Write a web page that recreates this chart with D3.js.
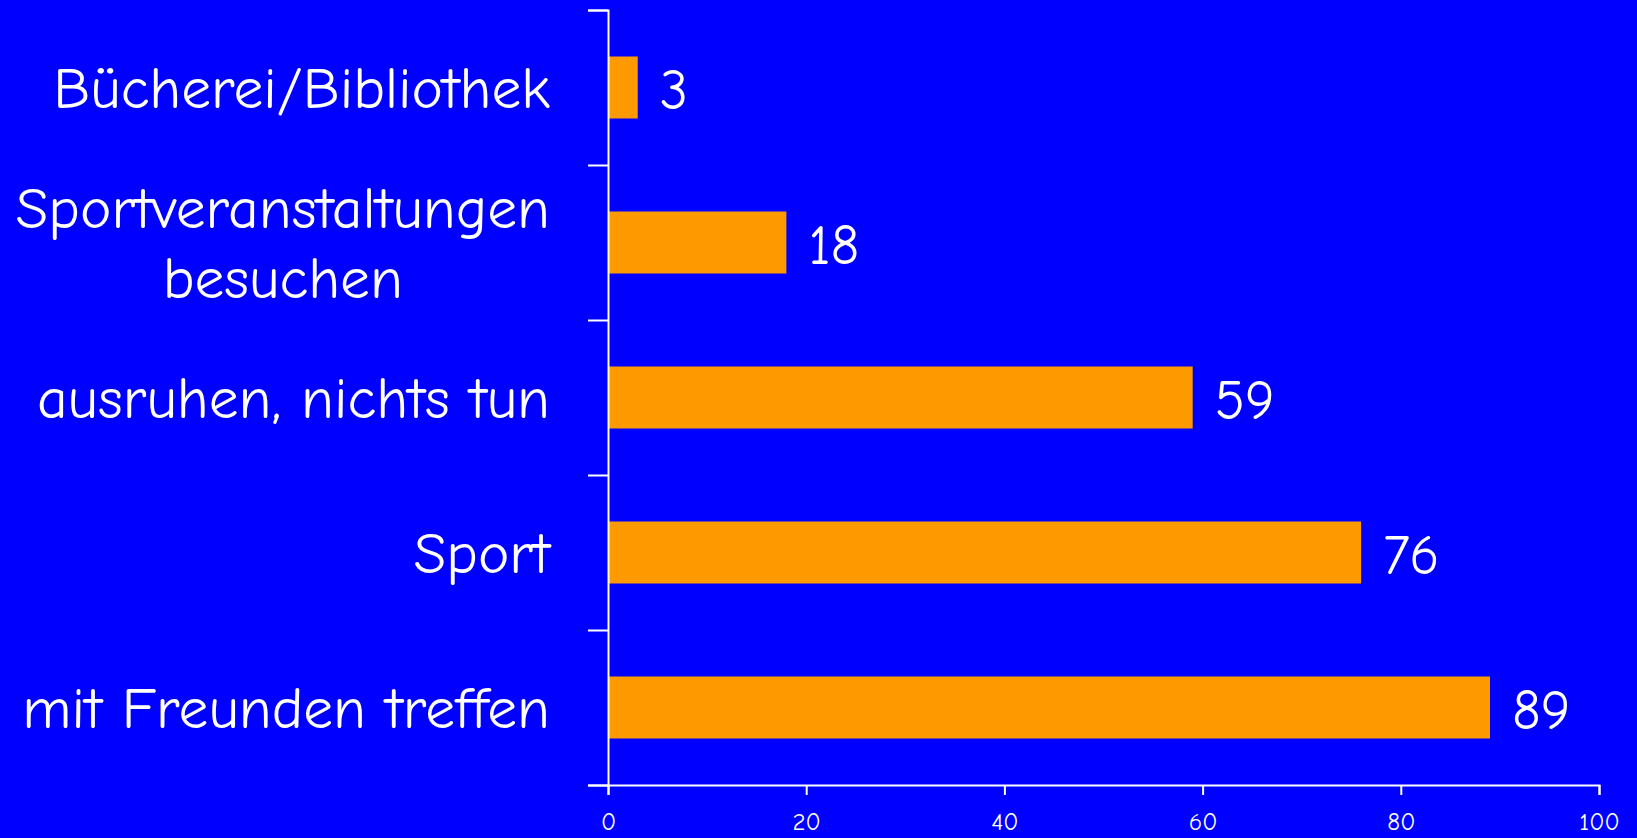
<!DOCTYPE html>
<html>
<head>
<meta charset="utf-8">
<script src="https://cdn.jsdelivr.net/npm/d3@7"></script>
<style>
html,body{margin:0;padding:0;background:#0000FF;}
svg{display:block;}
</style>
</head>
<body>
<svg id="chart" width="1637" height="838"></svg>
<script>
const categories = ["Bücherei/Bibliothek", "Sportveranstaltungen\nbesuchen", "ausruhen, nichts tun", "Sport", "mit Freunden treffen"];
const values = [3, 18, 59, 76, 89];
const xTicks = [0, 20, 40, 60, 80, 100];

const W = 1637, H = 838;
const margin = {left: 608, top: 10, right: 38, bottom: 53};
const svg = d3.select("#chart");
svg.append("rect").attr("width", W).attr("height", H).attr("fill", "#0000FF");

const x = d3.scaleLinear().domain([0, 100]).range([margin.left, W - margin.right]);
const y = d3.scaleBand().domain(categories).range([margin.top, H - margin.bottom]).paddingInner(0.6).paddingOuter(0.3);
const yBound = d3.scaleLinear().domain([0, categories.length]).range([H - margin.bottom, margin.top]);

const fontFam = "'Comic Sans MS', 'Comic Neue', 'Open Sans', sans-serif";

// bars
svg.selectAll("rect.bar").data(values).enter().append("rect")
  .attr("class", "bar")
  .attr("x", x(0))
  .attr("y", (d, i) => y(categories[i]))
  .attr("width", d => x(d) - x(0))
  .attr("height", y.bandwidth())
  .attr("fill", "#FF9900");

// value labels
svg.selectAll("text.val").data(values).enter().append("text")
  .attr("class", "val")
  .attr("x", d => x(d) + 22)
  .attr("y", (d, i) => y(categories[i]) + y.bandwidth() / 2)
  .attr("dy", "0.38em")
  .attr("fill", "#fff")
  .attr("font-family", fontFam)
  .attr("font-size", 56)
  .text(d => d);

// y axis (boundary ticks)
const yAxis = svg.append("g").attr("transform", `translate(${x(0)},0)`)
  .call(d3.axisLeft(yBound).ticks(categories.length).tickSize(20).tickFormat(""));
yAxis.selectAll("path,line").attr("stroke", "#fff").attr("stroke-width", 2);

// x axis
const xAxis = svg.append("g").attr("transform", `translate(0,${H - margin.bottom})`)
  .call(d3.axisBottom(x).tickValues(xTicks).tickSize(10));
xAxis.selectAll("path,line").attr("stroke", "#fff").attr("stroke-width", 2);
xAxis.selectAll("text").attr("fill", "#fff").attr("font-family", fontFam)
  .attr("font-size", 25).attr("y", 45).attr("dy", 0);

// category labels (multi-line centered block, right-aligned)
const labelRight = 550;
const fs = 59.5, lineH = 70;
categories.forEach(c => {
  const lines = c.split("\n");
  const g = svg.append("g");
  const t = g.append("text").attr("fill", "#fff").attr("font-family", fontFam)
    .attr("font-size", fs).attr("text-anchor", "middle");
  const cy = y(c) + y.bandwidth() / 2;
  lines.forEach((ln, k) => {
    t.append("tspan").attr("x", 0)
      .attr("y", cy + (k - (lines.length - 1) / 2) * lineH)
      .attr("dy", "0.35em").text(ln);
  });
  let maxW = 0;
  t.selectAll("tspan").each(function(){ maxW = Math.max(maxW, this.getComputedTextLength()); });
  t.selectAll("tspan").attr("x", labelRight - maxW / 2);
});
</script>
</body>
</html>
